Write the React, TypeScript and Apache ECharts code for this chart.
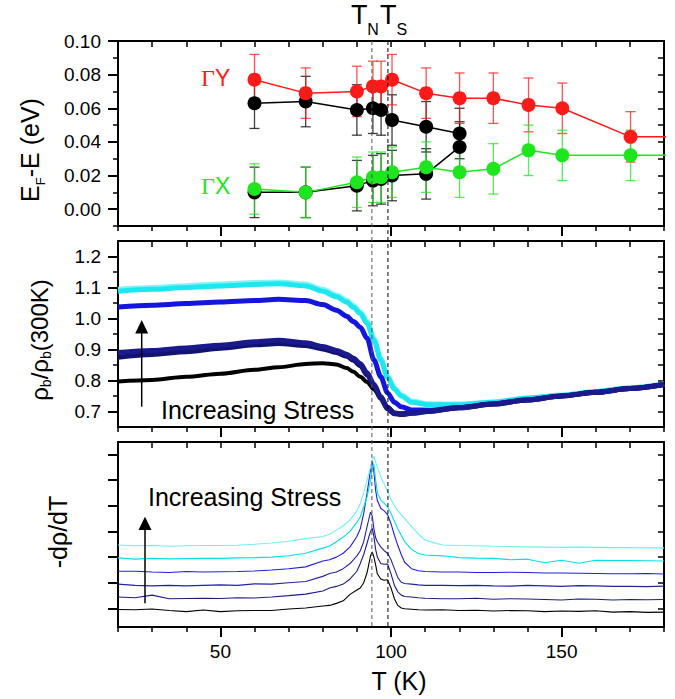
import React, { useEffect, useRef } from "react";
import * as echarts from "echarts";

const FONT = "'Liberation Sans', Arial, Helvetica, sans-serif";
const SERIF = "'Liberation Serif', 'Times New Roman', serif";

// ---------- shared x axis ----------
const X_MIN = 20;
const X_MAX = 180;
const xMajor = [50, 100, 150];
const xMinor = [20, 30, 40, 60, 70, 80, 90, 110, 120, 130, 140, 160, 170, 180];
const xAll = [20, 30, 40, 50, 60, 70, 80, 90, 100, 110, 120, 130, 140, 150, 160, 170, 180];
const T_N = 94.4;
const T_S = 99.1;

// ---------- top panel: E_F - E (eV) ----------
const topMajor = [0, 0.02, 0.04, 0.06, 0.08, 0.1];
const topMinor = [-0.01, 0.01, 0.03, 0.05, 0.07, 0.09];
const topRight = [-0.01, 0, 0.01, 0.02, 0.03, 0.04, 0.05, 0.06, 0.07, 0.08, 0.09, 0.1];

const redT = [60, 75, 90, 94.7, 97.1, 100.3, 110.3, 120.1, 130, 140.3, 150.2, 170.2];
const redE = [0.077, 0.069, 0.070, 0.073, 0.073, 0.077, 0.069, 0.066, 0.066, 0.062, 0.060, 0.043];
const redErr = [0.015, 0.015, 0.015, 0.015, 0.015, 0.015, 0.015, 0.015, 0.015, 0.016, 0.015, 0.015];
const redTailT = 195;
const redTailE = 0.043;

const blkYT = [60, 75, 90, 94.7, 97.1, 100.3, 110.3, 120.1];
const blkYE = [0.063, 0.064, 0.059, 0.060, 0.059, 0.053, 0.049, 0.045];
const blkYErr = [0.015, 0.015, 0.015, 0.015, 0.015, 0.015, 0.015, 0.015];

const blkXT = [60, 75, 90, 94.7, 97.1, 100.3, 110.3, 120.1];
const blkXE = [0.010, 0.010, 0.014, 0.017, 0.018, 0.020, 0.021, 0.037];
const blkXErr = [0.015, 0.015, 0.015, 0.015, 0.015, 0.015, 0.015, 0.015];

const grnT = [60, 75, 90, 94.7, 97.1, 100.3, 110.3, 120.1, 130, 140.3, 150.2, 170.2];
const grnE = [0.012, 0.010, 0.016, 0.019, 0.019, 0.022, 0.025, 0.022, 0.024, 0.035, 0.032, 0.032];
const grnErr = [0.015, 0.015, 0.015, 0.015, 0.015, 0.015, 0.015, 0.015, 0.015, 0.015, 0.015, 0.015];
const grnTailT = 195;
const grnTailE = 0.032;

// ---------- middle panel: rho_b / rho_b(300K) ----------
const midMajor = [0.7, 0.8, 0.9, 1.0, 1.1, 1.2];
const midMinor = [0.75, 0.85, 0.95, 1.05, 1.15];
const midRight = [0.65, 0.7, 0.75, 0.8, 0.85, 0.9, 0.95, 1.0, 1.05, 1.1, 1.15, 1.2, 1.25];

const rhoT = [20, 30, 40, 50, 60, 67, 75, 80, 84, 87, 89, 91, 93, 95, 97, 99, 101, 103, 106, 111, 120, 130, 140, 150, 160, 170, 180];
const rhoBlack = [0.797, 0.802, 0.812, 0.822, 0.835, 0.843, 0.853, 0.856, 0.852, 0.840, 0.828, 0.812, 0.795, 0.771, 0.745, 0.715, 0.697, 0.694, 0.697, 0.702, 0.713, 0.725, 0.737, 0.750, 0.762, 0.774, 0.787];
const rhoNavyLo = [0.875, 0.884, 0.893, 0.904, 0.915, 0.919, 0.913, 0.902, 0.890, 0.878, 0.865, 0.848, 0.818, 0.782, 0.742, 0.708, 0.693, 0.690, 0.694, 0.700, 0.712, 0.724, 0.737, 0.750, 0.762, 0.774, 0.787];
const rhoNavyHi = [0.890, 0.897, 0.905, 0.914, 0.925, 0.930, 0.922, 0.910, 0.897, 0.885, 0.872, 0.855, 0.825, 0.788, 0.748, 0.712, 0.695, 0.691, 0.695, 0.701, 0.712, 0.724, 0.737, 0.750, 0.762, 0.774, 0.787];
const rhoBlue = [1.037, 1.043, 1.048, 1.053, 1.058, 1.062, 1.058, 1.045, 1.027, 1.007, 0.990, 0.972, 0.936, 0.866, 0.812, 0.760, 0.730, 0.715, 0.705, 0.704, 0.713, 0.725, 0.738, 0.750, 0.762, 0.774, 0.787];
const rhoCyan = [1.088, 1.094, 1.100, 1.105, 1.110, 1.112, 1.105, 1.088, 1.070, 1.053, 1.036, 1.016, 0.985, 0.930, 0.866, 0.810, 0.772, 0.750, 0.730, 0.722, 0.722, 0.730, 0.743, 0.752, 0.764, 0.776, 0.788];
const rhoLtCyan = [1.094, 1.100, 1.106, 1.111, 1.116, 1.118, 1.111, 1.094, 1.076, 1.059, 1.042, 1.022, 0.991, 0.936, 0.872, 0.816, 0.777, 0.754, 0.734, 0.725, 0.724, 0.731, 0.744, 0.753, 0.765, 0.777, 0.789];

// ---------- bottom panel: -d rho / dT (offset curves) ----------
const botTicks = [0, 1, 2, 3, 4, 5, 6];
const dT = [20, 25, 30, 35, 40, 45, 50, 55, 60, 65, 70, 75, 80, 82, 84, 86, 88, 90, 91, 92, 93, 94, 94.5, 95, 95.5, 96, 97, 98, 99, 100, 101, 102, 103, 104, 106, 108, 110, 115, 120, 125, 130, 135, 140, 145, 150, 155, 160, 165, 170, 175, 180];
const dBlack = [-0.04, -0.05, -0.02, -0.08, -0.12, -0.06, -0.12, -0.09, -0.08, -0.08, -0.02, 0.02, 0.10, 0.12, 0.20, 0.30, 0.55, 0.72, 0.80, 1.00, 1.40, 2.05, 2.20, 2.00, 1.70, 1.35, 1.15, 1.10, 1.12, 0.80, 0.38, 0.12, 0.02, -0.01, -0.03, -0.05, -0.06, -0.05, -0.08, -0.07, -0.10, -0.08, -0.09, -0.12, -0.10, -0.11, -0.09, -0.14, -0.12, -0.15, -0.14];
const dNavy1 = [0.45, 0.42, 0.52, 0.38, 0.39, 0.40, 0.39, 0.42, 0.41, 0.45, 0.50, 0.56, 0.68, 0.80, 0.86, 0.95, 1.15, 1.45, 1.75, 2.10, 2.55, 3.00, 3.12, 2.80, 2.30, 2.00, 1.75, 1.72, 1.73, 1.35, 0.90, 0.65, 0.52, 0.47, 0.45, 0.42, 0.40, 0.38, 0.38, 0.40, 0.36, 0.38, 0.37, 0.35, 0.33, 0.37, 0.36, 0.33, 0.35, 0.34, 0.35];
const dNavy2 = [0.95, 0.90, 0.88, 0.90, 0.88, 0.90, 0.92, 0.90, 0.96, 0.95, 1.00, 1.05, 1.25, 1.36, 1.42, 1.55, 1.75, 2.05, 2.25, 2.60, 3.20, 3.75, 3.60, 3.10, 2.75, 2.60, 2.40, 2.25, 2.15, 1.90, 1.55, 1.20, 1.02, 0.97, 0.95, 0.92, 0.90, 0.90, 0.89, 0.90, 0.88, 0.87, 0.90, 0.88, 0.86, 0.89, 0.88, 0.86, 0.86, 0.85, 0.87];
const dBlue = [1.45, 1.45, 1.42, 1.40, 1.44, 1.42, 1.43, 1.44, 1.46, 1.50, 1.55, 1.62, 1.85, 1.90, 2.00, 2.15, 2.40, 2.80, 3.10, 3.70, 4.50, 5.40, 5.78, 5.30, 4.60, 4.20, 3.90, 3.80, 3.65, 3.30, 2.85, 2.45, 2.10, 1.80, 1.55, 1.47, 1.44, 1.42, 1.42, 1.40, 1.40, 1.41, 1.40, 1.38, 1.38, 1.37, 1.36, 1.35, 1.35, 1.36, 1.34];
const dCyan = [1.97, 1.92, 1.95, 1.93, 1.94, 1.95, 1.95, 1.97, 1.98, 2.00, 2.05, 2.15, 2.35, 2.43, 2.60, 2.78, 3.00, 3.35, 3.57, 3.95, 4.35, 5.00, 5.50, 5.60, 5.00, 4.50, 4.22, 4.10, 3.96, 3.70, 3.40, 3.10, 2.85, 2.60, 2.30, 2.14, 2.08, 2.05, 1.98, 1.96, 1.95, 1.90, 1.92, 1.78, 1.88, 1.76, 1.88, 1.87, 1.87, 1.86, 1.85];
const dLtCyan = [2.47, 2.44, 2.45, 2.42, 2.44, 2.45, 2.45, 2.46, 2.50, 2.55, 2.62, 2.72, 2.80, 2.89, 3.05, 3.22, 3.45, 3.80, 4.09, 4.50, 5.00, 5.50, 5.75, 5.93, 5.70, 5.50, 5.13, 4.85, 4.55, 4.25, 4.00, 3.80, 3.65, 3.50, 3.20, 2.90, 2.66, 2.47, 2.45, 2.44, 2.42, 2.41, 2.40, 2.39, 2.38, 2.39, 2.38, 2.37, 2.37, 2.36, 2.36];

// ---------- styles ----------
const C_RED = "#ff1a1a";
const C_GRN = "#1ee61e";
const C_BLK = "#000000";
const rhoColors = ["#000000", "#121270", "#1a1a8c", "#1515e0", "#1ee6ee", "#7ff5f8"];
const dColors = ["#000000", "#1c1c88", "#2323a8", "#1f1fe0", "#00e0e6", "#6ff0f5"];

const panels = [
  { top: 41, height: 185, min: -0.01, max: 0.1, major: topMajor, minor: topMinor, right: topRight, dec: 2, labels: true },
  { top: 241, height: 186, min: 0.65, max: 1.25, major: midMajor, minor: midMinor, right: midRight, dec: 1, labels: true },
  { top: 442, height: 185, min: -0.72, max: 6.48, major: botTicks, minor: [] as number[], right: botTicks, dec: 0, labels: false },
];

function pairs(xs: number[], ys: number[]) {
  return xs.map((x, i) => [x, ys[i]]);
}
function triples(xs: number[], ys: number[], es: number[]) {
  return xs.map((x, i) => [x, ys[i], es[i]]);
}

function errorSeries(data: number[][], color: string) {
  return {
    type: "custom",
    xAxisIndex: 0,
    yAxisIndex: 0,
    z: 2,
    data,
    encode: { x: 0, y: 1 },
    renderItem: (_p: any, api: any) => {
      const x = api.value(0);
      const y = api.value(1);
      const e = api.value(2);
      const a = api.coord([x, y + e]);
      const b = api.coord([x, y - e]);
      const w = 5;
      const st = { stroke: color, lineWidth: 1.3, opacity: 0.75 };
      return {
        type: "group",
        children: [
          { type: "line", shape: { x1: a[0], y1: a[1], x2: b[0], y2: b[1] }, style: st },
          { type: "line", shape: { x1: a[0] - w, y1: a[1], x2: a[0] + w, y2: a[1] }, style: st },
          { type: "line", shape: { x1: b[0] - w, y1: b[1], x2: b[0] + w, y2: b[1] }, style: st },
        ],
      };
    },
  };
}

function pointSeries(data: number[][], color: string) {
  return {
    type: "line",
    xAxisIndex: 0,
    yAxisIndex: 0,
    z: 3,
    data,
    symbol: "circle",
    symbolSize: 14,
    showAllSymbol: true,
    itemStyle: { color },
    lineStyle: { color, width: 1.5 },
  };
}

export default function App() {
  const ref = useRef<HTMLDivElement>(null);
  useEffect(() => {
    if (!ref.current) return;
    const chart = echarts.init(ref.current, undefined, { renderer: "svg" });

    const xAxis: any[] = [];
    const yAxis: any[] = [];
    const line2 = { color: "#000", width: 2 };
    panels.forEach((p, g) => {
      xAxis.push({
        type: "value", gridIndex: g, position: "bottom", min: X_MIN, max: X_MAX,
        axisLine: { show: true, onZero: false, lineStyle: line2 },
        axisTick: { show: true, customValues: xMajor, length: 10, lineStyle: { color: "#000", width: 2 } },
        axisLabel: { show: g === 2, customValues: xMajor, fontSize: 19, color: "#000", fontFamily: FONT, margin: 15 },
        splitLine: { show: false },
      });
      xAxis.push({
        type: "value", gridIndex: g, position: "bottom", min: X_MIN, max: X_MAX,
        axisLine: { show: false, onZero: false },
        axisTick: { show: true, customValues: xMinor, length: 5, lineStyle: { color: "#000", width: 1.5 } },
        axisLabel: { show: false },
        splitLine: { show: false },
      });
      xAxis.push({
        type: "value", gridIndex: g, position: "top", min: X_MIN, max: X_MAX,
        axisLine: { show: true, onZero: false, lineStyle: line2 },
        axisTick: { show: true, inside: true, customValues: xAll, length: 6, lineStyle: { color: "#000", width: 1.5 } },
        axisLabel: { show: false },
        splitLine: { show: false },
      });
      yAxis.push({
        type: "value", gridIndex: g, position: "left", min: p.min, max: p.max,
        axisLine: { show: true, onZero: false, lineStyle: line2 },
        axisTick: { show: true, customValues: p.major, length: 10, lineStyle: { color: "#000", width: 2 } },
        axisLabel: {
          show: p.labels, customValues: p.major, fontSize: 19, color: "#000", fontFamily: FONT, margin: 17,
          formatter: (v: number) => v.toFixed(p.dec),
        },
        splitLine: { show: false },
      });
      yAxis.push({
        type: "value", gridIndex: g, position: "left", min: p.min, max: p.max,
        axisLine: { show: false, onZero: false },
        axisTick: { show: p.minor.length > 0, customValues: p.minor.length ? p.minor : [p.min], length: 5, lineStyle: { color: "#000", width: 1.5 } },
        axisLabel: { show: false },
        splitLine: { show: false },
      });
      yAxis.push({
        type: "value", gridIndex: g, position: "right", min: p.min, max: p.max,
        axisLine: { show: true, onZero: false, lineStyle: line2 },
        axisTick: { show: true, inside: true, customValues: p.right, length: 6, lineStyle: { color: "#000", width: 1.5 } },
        axisLabel: { show: false },
        splitLine: { show: false },
      });
    });

    const grid = panels.map((p) => ({ left: 118, right: 11, top: p.top, height: p.height }));

    const rhoSets = [rhoBlack, rhoLtCyan, rhoCyan, rhoBlue, rhoNavyLo, rhoNavyHi];
    const rhoCols = [rhoColors[0], rhoColors[5], rhoColors[4], rhoColors[3], rhoColors[1], rhoColors[2]];
    const rhoSeries = rhoSets.map((ys, i) => ({
      type: "line", xAxisIndex: 3, yAxisIndex: 3, data: pairs(rhoT, ys),
      showSymbol: false, smooth: 0.3, smoothMonotone: "x",
      lineStyle: { color: rhoCols[i], width: i === 0 ? 4 : 5 },
    }));

    const dSets = [dBlack, dNavy1, dNavy2, dBlue, dCyan, dLtCyan];
    const dSeries = dSets.map((ys, i) => ({
      type: "line", xAxisIndex: 6, yAxisIndex: 6, data: pairs(dT, ys),
      showSymbol: false, lineStyle: { color: dColors[i], width: 1.1 },
    }));

    const series: any[] = [
      errorSeries(triples(blkYT, blkYE, blkYErr), C_BLK),
      errorSeries(triples(blkXT, blkXE, blkXErr), C_BLK),
      errorSeries(triples(redT, redE, redErr), C_RED),
      errorSeries(triples(grnT, grnE, grnErr), C_GRN),
      pointSeries(pairs(blkYT, blkYE), C_BLK),
      pointSeries(pairs(blkXT, blkXE), C_BLK),
      pointSeries([...pairs(redT, redE), [redTailT, redTailE]], C_RED),
      pointSeries([...pairs(grnT, grnE), [grnTailT, grnTailE]], C_GRN),
      ...rhoSeries,
      ...dSeries,
    ];

    chart.setOption({ animation: false, grid, xAxis, yAxis, series });

    const xN = chart.convertToPixel({ xAxisIndex: 0 }, T_N) as number;
    const xS = chart.convertToPixel({ xAxisIndex: 0 }, T_S) as number;
    const yTop = chart.convertToPixel({ yAxisIndex: 0 }, panels[0].max) as number;
    const yBot = chart.convertToPixel({ yAxisIndex: 6 }, panels[2].min) as number;

    const graphic: any[] = [
      { type: "line", shape: { x1: xN, y1: yTop, x2: xN, y2: yBot }, style: { stroke: "#555", lineWidth: 1, lineDash: [4, 3] }, z: 50 },
      { type: "line", shape: { x1: xS, y1: yTop, x2: xS, y2: yBot }, style: { stroke: "#000", lineWidth: 1, lineDash: [4, 3] }, z: 50 },
      {
        type: "text", x: xN - 21, y: 1, z: 50,
        style: {
          text: "{t|T}{s|N}{t|T}{s|S}", align: "left", verticalAlign: "top", fill: "#000",
          rich: {
            t: { fontSize: 27, fontFamily: FONT, verticalAlign: "top", fill: "#000" },
            s: { fontSize: 16, fontFamily: FONT, verticalAlign: "top", padding: [20, 1, 0, 0], fill: "#000" },
          },
        },
      },
      {
        type: "text", x: 201, y: 78, z: 50,
        style: {
          text: "{g|Γ}{l|Y}", align: "left", verticalAlign: "middle",
          rich: { g: { fontSize: 24, fontFamily: SERIF, fill: C_RED }, l: { fontSize: 23, fontFamily: FONT, fill: C_RED } },
        },
      },
      {
        type: "text", x: 201, y: 186, z: 50,
        style: {
          text: "{g|Γ}{l|X}", align: "left", verticalAlign: "middle",
          rich: { g: { fontSize: 24, fontFamily: SERIF, fill: C_GRN }, l: { fontSize: 23, fontFamily: FONT, fill: C_GRN } },
        },
      },
      {
        type: "text", x: 32, y: 150, rotation: Math.PI / 2, z: 50,
        style: {
          text: "{m|E}{s|F}{m|-E (eV)}", align: "center", verticalAlign: "middle",
          rich: {
            m: { fontSize: 25, fontFamily: FONT, verticalAlign: "top", fill: "#000" },
            s: { fontSize: 13, fontFamily: FONT, verticalAlign: "top", padding: [16, 0, 0, 0], fill: "#000" },
          },
        },
      },
      {
        type: "text", x: 40, y: 340, rotation: Math.PI / 2, z: 50,
        style: {
          text: "{m|ρ}{s|b}{m|/ρ}{s|b}{m|(300K)}", align: "center", verticalAlign: "middle",
          rich: {
            m: { fontSize: 24, fontFamily: FONT, verticalAlign: "top", fill: "#000" },
            s: { fontSize: 14, fontFamily: FONT, verticalAlign: "top", padding: [12, 0, 0, 0], fill: "#000" },
          },
        },
      },
      {
        type: "text", x: 58, y: 532, rotation: Math.PI / 2, z: 50,
        style: { text: "-dρ/dT", align: "center", verticalAlign: "middle", fontSize: 25, fontFamily: FONT, fill: "#000" },
      },
      {
        type: "text", x: 161, y: 410, z: 50,
        style: { text: "Increasing Stress", align: "left", verticalAlign: "middle", fontSize: 25, fontFamily: FONT, fill: "#000" },
      },
      {
        type: "text", x: 148, y: 497, z: 50,
        style: { text: "Increasing Stress", align: "left", verticalAlign: "middle", fontSize: 25, fontFamily: FONT, fill: "#000" },
      },
      { type: "line", shape: { x1: 141.7, y1: 406.7, x2: 141.7, y2: 332 }, style: { stroke: "#000", lineWidth: 1.5 }, z: 50 },
      { type: "polygon", shape: { points: [[135.2, 333.5], [148.2, 333.5], [141.7, 320]] }, style: { fill: "#000" }, z: 50 },
      { type: "line", shape: { x1: 145, y1: 603.3, x2: 145, y2: 528 }, style: { stroke: "#000", lineWidth: 1.5 }, z: 50 },
      { type: "polygon", shape: { points: [[138.5, 530], [151.5, 530], [145, 516.7]] }, style: { fill: "#000" }, z: 50 },
      {
        type: "text", x: 399, y: 681, z: 50,
        style: { text: "T (K)", align: "center", verticalAlign: "middle", fontSize: 25, fontFamily: FONT, fill: "#000" },
      },
    ];
    chart.setOption({ graphic });

    return () => chart.dispose();
  }, []);

  return (
    <div
      ref={ref}
      style={{ position: "fixed", left: 0, top: 0, width: 675, height: 699, background: "#fff" }}
    />
  );
}
